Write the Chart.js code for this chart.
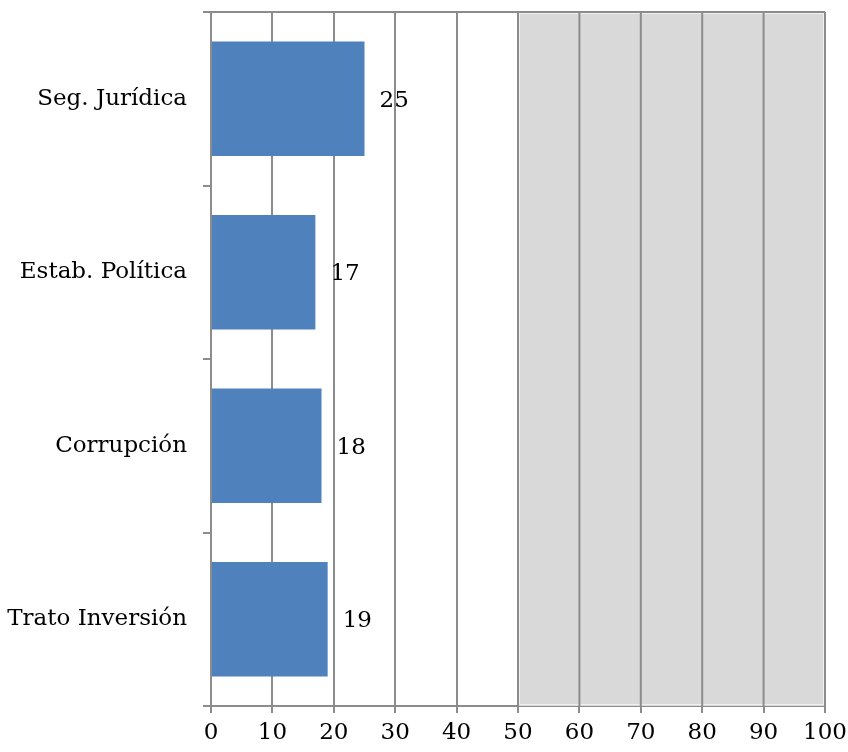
<!DOCTYPE html>
<html>
<head>
<meta charset="utf-8">
<script src="https://cdn.jsdelivr.net/npm/chart.js@4/dist/chart.umd.min.js"></script>
<style>
  html, body { margin: 0; padding: 0; background: #ffffff; }
  #wrap { width: 848px; height: 752px; }
</style>
</head>
<body>
<div id="wrap"><canvas id="chart" width="848" height="752"></canvas></div>
<script>
const categories = ['Seg. Jurídica', 'Estab. Política', 'Corrupción', 'Trato Inversión'];
const values = [25, 17, 18, 19];
const xTicks = [0, 10, 20, 30, 40, 50, 60, 70, 80, 90, 100];
const shadeFrom = 50;
const shadeTo = 100;

const FONT = '"DejaVu Serif", "Liberation Serif", serif';
const GRID = '#8c8c8c';

// gray band for the upper half of the scale
const shadePlugin = {
    id: 'shade',
    beforeDatasetsDraw(chart) {
        const { ctx, chartArea, scales } = chart;
        const x0 = scales.x.getPixelForValue(shadeFrom);
        const x1 = scales.x.getPixelForValue(shadeTo);
        ctx.save();
        ctx.fillStyle = '#d9d9d9';
        ctx.fillRect(x0, chartArea.top, x1 - x0, chartArea.bottom - chartArea.top);
        ctx.strokeStyle = '#f0f0f0';
        ctx.lineWidth = 1;
        ctx.strokeRect(x0 + 1.5, chartArea.top + 1.5, x1 - x0 - 3, chartArea.bottom - chartArea.top - 3);
        // redraw grid lines inside the band
        ctx.strokeStyle = GRID;
        ctx.lineWidth = 2;
        xTicks.forEach(v => {
            if (v < shadeFrom) return;
            const x = scales.x.getPixelForValue(v);
            ctx.beginPath();
            ctx.moveTo(x, chartArea.top);
            ctx.lineTo(x, chartArea.bottom);
            ctx.stroke();
        });
        // top frame line
        ctx.beginPath();
        ctx.moveTo(chartArea.left - 8, chartArea.top);
        ctx.lineTo(chartArea.right, chartArea.top);
        ctx.stroke();
        ctx.restore();
    }
};

// value labels to the right of each bar
const valueLabels = {
    id: 'valueLabels',
    afterDatasetsDraw(chart) {
        const { ctx } = chart;
        const meta = chart.getDatasetMeta(0);
        ctx.save();
        ctx.font = '23px ' + FONT;
        ctx.fillStyle = '#000000';
        ctx.textAlign = 'left';
        ctx.textBaseline = 'middle';
        meta.data.forEach((bar, i) => {
            ctx.fillText(String(values[i]), bar.x + 15, bar.y + 2);
        });
        ctx.restore();
    }
};

function noOverflow(scale) {
    scale.paddingTop = 0;
    scale.paddingBottom = 0;
    scale.paddingLeft = 0;
    scale.paddingRight = 0;
}

new Chart(document.getElementById('chart'), {
    type: 'bar',
    data: {
        labels: categories,
        datasets: [{
            data: values,
            backgroundColor: '#4f81bd',
            borderWidth: 0,
            categoryPercentage: 1,
            barPercentage: 0.66
        }]
    },
    options: {
        indexAxis: 'y',
        responsive: false,
        animation: false,
        layout: { padding: { left: 0, right: 23, top: 12, bottom: 0 } },
        plugins: {
            legend: { display: false },
            tooltip: { enabled: false }
        },
        scales: {
            x: {
                min: 0,
                max: 100,
                afterBuildTicks: scale => { scale.ticks = xTicks.map(v => ({ value: v })); },
                afterFit: scale => { scale.height = 46; noOverflow(scale); },
                grid: { color: GRID, lineWidth: 2, tickLength: 7, drawTicks: true },
                border: { color: GRID, width: 2 },
                ticks: {
                    color: '#000000',
                    font: { family: FONT, size: 23 },
                    padding: 6,
                    maxRotation: 0
                }
            },
            y: {
                afterFit: scale => { scale.width = 211; noOverflow(scale); },
                grid: { drawOnChartArea: false, color: GRID, lineWidth: 2, tickLength: 8, offset: true },
                border: { color: GRID, width: 2 },
                ticks: {
                    color: '#000000',
                    font: { family: FONT, size: 23 },
                    padding: 16
                }
            }
        }
    },
    plugins: [shadePlugin, valueLabels]
});
</script>
</body>
</html>
